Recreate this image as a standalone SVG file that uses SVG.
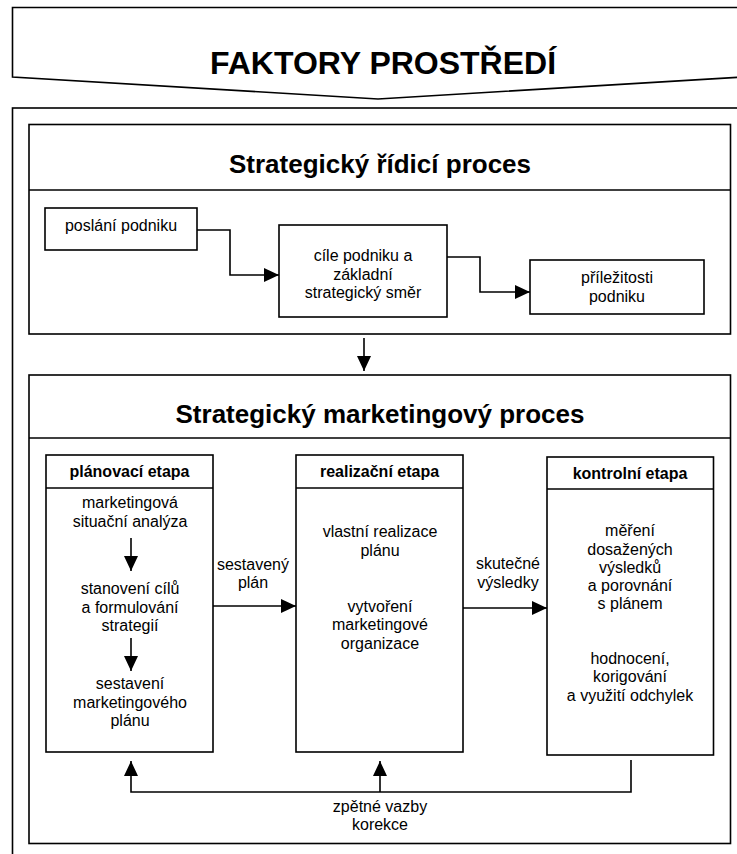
<svg xmlns="http://www.w3.org/2000/svg" width="737" height="854" viewBox="0 0 737 854">
<style>
.box{fill:#fff;stroke:#000;stroke-width:1.6}
.ln{fill:none;stroke:#000;stroke-width:1.6}
.con{fill:none;stroke:#000;stroke-width:1.6;marker-end:url(#ah)}
text{font-family:"Liberation Sans",Arial,sans-serif;fill:#000;text-anchor:middle}
.t{font-size:16px}
.h{font-size:16px;font-weight:bold}
.tt{font-size:26px;font-weight:bold}
.big{font-size:32px;font-weight:bold}
</style>
<defs>
<marker id="ah" markerUnits="userSpaceOnUse" markerWidth="16" markerHeight="14" refX="15" refY="7" orient="auto">
<path d="M0,0 L15,7 L0,14 z" fill="#000"/>
</marker>
</defs>
<rect width="737" height="854" fill="#fff"/>
<g id="banner">
<polygon class="box" points="12.5,7.5 760,7.5 760,76 378,99 12.5,77"/>
<text class="big" x="383" y="74">FAKTORY PROSTŘEDÍ</text>
</g>
<g id="outer">
<rect class="box" x="12.5" y="108" width="760" height="780"/>
</g>
<g id="strategic">
<rect class="box" x="29" y="124.5" width="701.5" height="209.5"/>
<line class="ln" x1="29" y1="190" x2="730.5" y2="190"/>
<text class="tt" x="380" y="173">Strategický řídicí proces</text>
</g>
<g id="poslani">
<rect class="box" x="45" y="208" width="152" height="42"/>
<text class="t" x="121" y="231">poslání podniku</text>
</g>
<g id="cile">
<rect class="box" x="279" y="225" width="168" height="92"/>
<text class="t" x="363" y="261">cíle podniku a</text>
<text class="t" x="363" y="279.5">základní</text>
<text class="t" x="363" y="298">strategický směr</text>
</g>
<g id="prilezitosti">
<rect class="box" x="530" y="260" width="174" height="54"/>
<text class="t" x="617" y="283">příležitosti</text>
<text class="t" x="617" y="302">podniku</text>
</g>
<g id="marketing">
<rect class="box" x="29" y="375" width="701.5" height="468.5"/>
<line class="ln" x1="29" y1="438" x2="730.5" y2="438"/>
<text class="tt" x="380" y="423">Strategický marketingový proces</text>
</g>
<g id="planovaci">
<rect class="box" x="46" y="455" width="167" height="297"/>
<line class="ln" x1="46" y1="488" x2="213" y2="488"/>
<text class="h" x="129.5" y="477">plánovací etapa</text>
<text class="t" x="130" y="508">marketingová</text>
<text class="t" x="130" y="527">situační analýza</text>
<text class="t" x="130" y="594">stanovení cílů</text>
<text class="t" x="130" y="612.5">a formulování</text>
<text class="t" x="130" y="631">strategií</text>
<text class="t" x="130" y="689">sestavení</text>
<text class="t" x="130" y="707.5">marketingového</text>
<text class="t" x="130" y="726">plánu</text>
</g>
<g id="realizacni">
<rect class="box" x="296" y="455" width="167" height="297"/>
<line class="ln" x1="296" y1="488" x2="463" y2="488"/>
<text class="h" x="379.5" y="477">realizační etapa</text>
<text class="t" x="380" y="537">vlastní realizace</text>
<text class="t" x="380" y="556">plánu</text>
<text class="t" x="380" y="612">vytvoření</text>
<text class="t" x="380" y="630">marketingové</text>
<text class="t" x="380" y="648.5">organizace</text>
</g>
<g id="kontrolni">
<rect class="box" x="547" y="457" width="166.5" height="298"/>
<line class="ln" x1="547" y1="489" x2="713.5" y2="489"/>
<text class="h" x="630" y="479">kontrolní etapa</text>
<text class="t" x="630" y="536">měření</text>
<text class="t" x="630" y="554.5">dosažených</text>
<text class="t" x="630" y="572.5">výsledků</text>
<text class="t" x="630" y="591">a porovnání</text>
<text class="t" x="630" y="609">s plánem</text>
<text class="t" x="630" y="664">hodnocení,</text>
<text class="t" x="630" y="682">korigování</text>
<text class="t" x="630" y="700.5">a využití odchylek</text>
</g>
<g id="connectors">
<polyline class="con" points="197,230 230,230 230,275 279,275"/>
<polyline class="con" points="447,257 480,257 480,292 530,292"/>
<line class="con" x1="364" y1="338" x2="364" y2="371"/>
<line class="con" x1="131" y1="538" x2="131" y2="571"/>
<line class="con" x1="131" y1="638" x2="131" y2="671"/>
<line class="con" x1="213" y1="606" x2="296" y2="606"/>
<line class="con" x1="463" y1="608" x2="547" y2="608"/>
<polyline class="con" points="631,760 631,792 131,792 131,761"/>
<line class="con" x1="380" y1="792" x2="380" y2="761"/>
<text class="t" x="253" y="570">sestavený</text>
<text class="t" x="253" y="588">plán</text>
<text class="t" x="508" y="569">skutečné</text>
<text class="t" x="508" y="588">výsledky</text>
<text class="t" x="380" y="812">zpětné vazby</text>
<text class="t" x="380" y="830">korekce</text>
</g>
</svg>
